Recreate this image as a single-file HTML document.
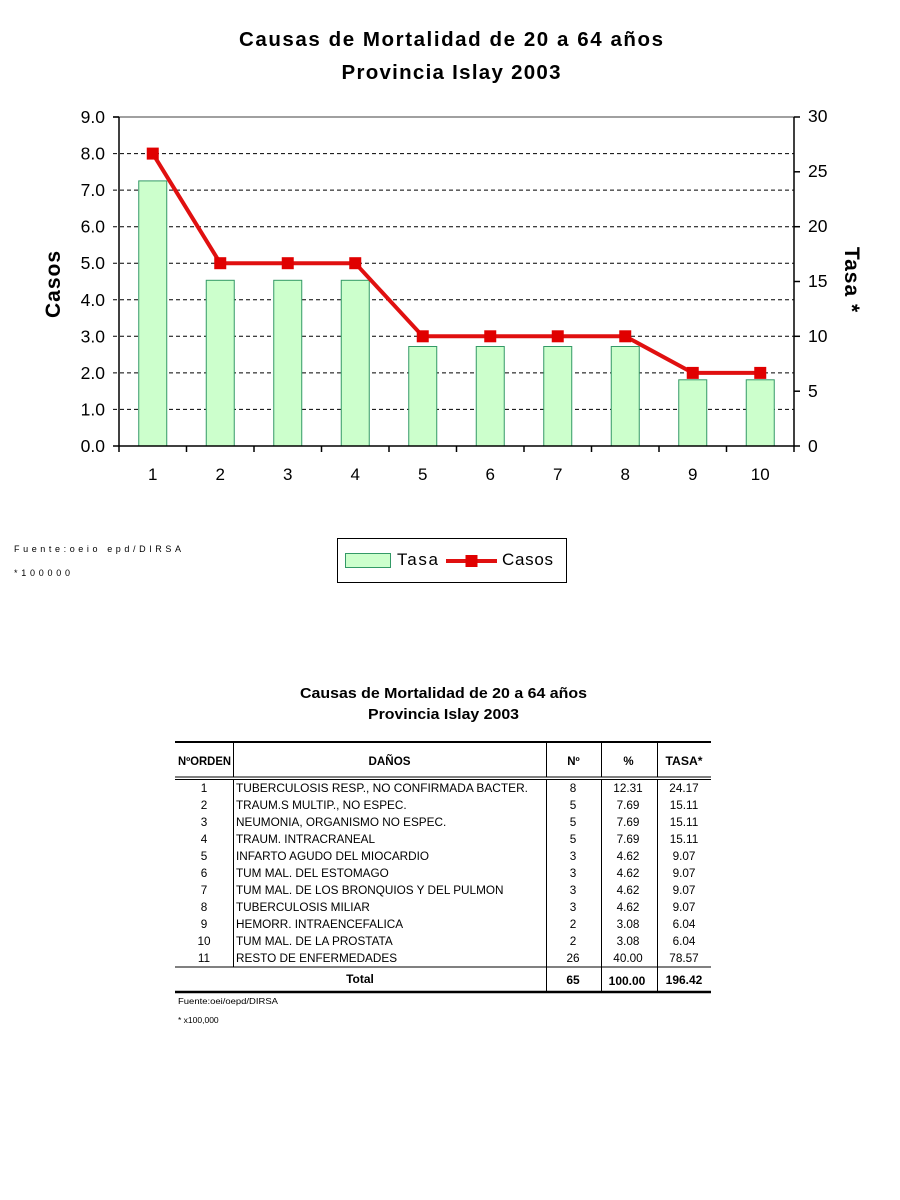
<!DOCTYPE html>
<html><head><meta charset="utf-8"><style>
html,body{margin:0;padding:0;background:#fff;}
svg{display:block;font-family:"Liberation Sans",Arial,sans-serif;}
</style></head><body>
<svg width="900" height="1200" viewBox="0 0 900 1200" xmlns="http://www.w3.org/2000/svg">
<rect width="900" height="1200" fill="#fff"/>
<!-- Title -->
<text x="451" y="46" font-size="20.5" font-weight="bold" text-anchor="middle" textLength="424" lengthAdjust="spacing">Causas de Mortalidad de 20 a 64 años</text>
<text x="451" y="79" font-size="20.5" font-weight="bold" text-anchor="middle" textLength="219" lengthAdjust="spacing">Provincia Islay 2003</text>

<!-- gridlines -->
<g stroke="#000" stroke-width="1" stroke-dasharray="4,3">
<line x1="113" y1="409.4" x2="794" y2="409.4"/>
<line x1="113" y1="372.9" x2="794" y2="372.9"/>
<line x1="113" y1="336.3" x2="794" y2="336.3"/>
<line x1="113" y1="299.8" x2="794" y2="299.8"/>
<line x1="113" y1="263.2" x2="794" y2="263.2"/>
<line x1="113" y1="226.7" x2="794" y2="226.7"/>
<line x1="113" y1="190.1" x2="794" y2="190.1"/>
<line x1="113" y1="153.6" x2="794" y2="153.6"/>
</g>
<line x1="113" y1="117" x2="794" y2="117" stroke="#808080" stroke-width="1.5"/>

<!-- bars -->
<g fill="#ccffcc" stroke="#339966" stroke-width="1">
<rect x="138.75" y="180.9" width="28" height="265.1"/>
<rect x="206.25" y="280.3" width="28" height="165.7"/>
<rect x="273.75" y="280.3" width="28" height="165.7"/>
<rect x="341.25" y="280.3" width="28" height="165.7"/>
<rect x="408.75" y="346.5" width="28" height="99.5"/>
<rect x="476.25" y="346.5" width="28" height="99.5"/>
<rect x="543.75" y="346.5" width="28" height="99.5"/>
<rect x="611.25" y="346.5" width="28" height="99.5"/>
<rect x="678.75" y="379.8" width="28" height="66.2"/>
<rect x="746.25" y="379.8" width="28" height="66.2"/>
</g>

<!-- axes -->
<g stroke="#000" stroke-width="1.5">
<line x1="119" y1="117" x2="119" y2="452"/>
<line x1="794" y1="117" x2="794" y2="452"/>
<line x1="119" y1="446" x2="794" y2="446"/>
<line x1="113" y1="446" x2="119" y2="446"/>
<line x1="113" y1="117" x2="119" y2="117"/>
<line x1="186.5" y1="446" x2="186.5" y2="452"/>
<line x1="254" y1="446" x2="254" y2="452"/>
<line x1="321.5" y1="446" x2="321.5" y2="452"/>
<line x1="389" y1="446" x2="389" y2="452"/>
<line x1="456.5" y1="446" x2="456.5" y2="452"/>
<line x1="524" y1="446" x2="524" y2="452"/>
<line x1="591.5" y1="446" x2="591.5" y2="452"/>
<line x1="659" y1="446" x2="659" y2="452"/>
<line x1="726.5" y1="446" x2="726.5" y2="452"/>
<line x1="794" y1="446" x2="800" y2="446"/>
<line x1="794" y1="391.2" x2="800" y2="391.2"/>
<line x1="794" y1="336.3" x2="800" y2="336.3"/>
<line x1="794" y1="281.5" x2="800" y2="281.5"/>
<line x1="794" y1="226.7" x2="800" y2="226.7"/>
<line x1="794" y1="171.8" x2="800" y2="171.8"/>
<line x1="794" y1="117" x2="800" y2="117"/>
</g>

<!-- line series -->
<polyline fill="none" stroke="#e01010" stroke-width="4" stroke-linejoin="miter"
 points="152.75,153.6 220.25,263.2 287.75,263.2 355.25,263.2 422.75,336.3 490.25,336.3 557.75,336.3 625.25,336.3 692.75,372.9 760.25,372.9"/>
<g fill="#e00000">
<rect x="146.75" y="147.6" width="12" height="12"/>
<rect x="214.25" y="257.2" width="12" height="12"/>
<rect x="281.75" y="257.2" width="12" height="12"/>
<rect x="349.25" y="257.2" width="12" height="12"/>
<rect x="416.75" y="330.3" width="12" height="12"/>
<rect x="484.25" y="330.3" width="12" height="12"/>
<rect x="551.75" y="330.3" width="12" height="12"/>
<rect x="619.25" y="330.3" width="12" height="12"/>
<rect x="686.75" y="366.9" width="12" height="12"/>
<rect x="754.25" y="366.9" width="12" height="12"/>
</g>

<!-- left tick labels -->
<g font-size="17.5" text-anchor="end">
<text x="105" y="123">9.0</text>
<text x="105" y="159.6">8.0</text>
<text x="105" y="196.1">7.0</text>
<text x="105" y="232.7">6.0</text>
<text x="105" y="269.2">5.0</text>
<text x="105" y="305.8">4.0</text>
<text x="105" y="342.3">3.0</text>
<text x="105" y="378.9">2.0</text>
<text x="105" y="415.4">1.0</text>
<text x="105" y="452">0.0</text>
</g>
<!-- right tick labels -->
<g font-size="17.5" text-anchor="start">
<text x="808" y="122">30</text>
<text x="808" y="177">25</text>
<text x="808" y="232">20</text>
<text x="808" y="287">15</text>
<text x="808" y="342">10</text>
<text x="808" y="397">5</text>
<text x="808" y="452">0</text>
</g>
<!-- x labels -->
<g font-size="17" text-anchor="middle">
<text x="152.75" y="480">1</text>
<text x="220.25" y="480">2</text>
<text x="287.75" y="480">3</text>
<text x="355.25" y="480">4</text>
<text x="422.75" y="480">5</text>
<text x="490.25" y="480">6</text>
<text x="557.75" y="480">7</text>
<text x="625.25" y="480">8</text>
<text x="692.75" y="480">9</text>
<text x="760.25" y="480">10</text>
</g>
<!-- axis titles -->
<text transform="translate(60,284) rotate(-90)" font-size="21" font-weight="bold" text-anchor="middle" letter-spacing="1">Casos</text>
<text transform="translate(845,280) rotate(90)" font-size="21" font-weight="bold" text-anchor="middle" letter-spacing="1">Tasa *</text>

<!-- footnote -->
<text x="14" y="552" font-size="9" textLength="167" lengthAdjust="spacing">Fuente:oeio epd/DIRSA</text>
<text x="14" y="576" font-size="9" textLength="56" lengthAdjust="spacing">*100000</text>

<!-- legend -->
<rect x="337.5" y="538.5" width="229" height="44" fill="#fff" stroke="#000" stroke-width="1"/>
<rect x="345.5" y="553.5" width="45" height="14" fill="#ccffcc" stroke="#339966" stroke-width="1"/>
<text x="397" y="565" font-size="17" textLength="41" lengthAdjust="spacing">Tasa</text>
<line x1="446" y1="561" x2="497" y2="561" stroke="#e01010" stroke-width="4"/>
<rect x="465.5" y="555" width="12" height="12" fill="#e00000"/>
<text x="502" y="565" font-size="17" textLength="51" lengthAdjust="spacing">Casos</text>

<!-- table title -->
<text x="443.5" y="698" font-size="14.5" font-weight="bold" text-anchor="middle" textLength="287" lengthAdjust="spacingAndGlyphs">Causas de Mortalidad de 20 a 64 años</text>
<text x="443.5" y="719" font-size="14.5" font-weight="bold" text-anchor="middle" textLength="151" lengthAdjust="spacingAndGlyphs">Provincia Islay 2003</text>

<!-- table lines -->
<line x1="175" y1="742" x2="711" y2="742" stroke="#000" stroke-width="2"/>
<line x1="175" y1="777" x2="711" y2="777" stroke="#000" stroke-width="1"/>
<line x1="175" y1="779.5" x2="711" y2="779.5" stroke="#000" stroke-width="1"/>
<line x1="175" y1="967" x2="711" y2="967" stroke="#000" stroke-width="1"/>
<line x1="175" y1="992" x2="711" y2="992" stroke="#000" stroke-width="2.5"/>
<g stroke="#000" stroke-width="1">
<line x1="233.5" y1="742" x2="233.5" y2="777"/>
<line x1="233.5" y1="779.5" x2="233.5" y2="967"/>
<line x1="546.5" y1="742" x2="546.5" y2="777"/>
<line x1="546.5" y1="779.5" x2="546.5" y2="992"/>
<line x1="601.5" y1="742" x2="601.5" y2="777"/>
<line x1="601.5" y1="779.5" x2="601.5" y2="992"/>
<line x1="657.5" y1="742" x2="657.5" y2="777"/>
<line x1="657.5" y1="779.5" x2="657.5" y2="992"/>
</g>

<!-- header -->
<g font-size="11.5" font-weight="bold" text-anchor="middle">
<text x="204.5" y="765" textLength="53" lengthAdjust="spacingAndGlyphs">NºORDEN</text>
<text x="389.5" y="765" textLength="42" lengthAdjust="spacingAndGlyphs">DAÑOS</text>
<text x="573.5" y="765">Nº</text>
<text x="628.5" y="765">%</text>
<text x="684" y="765" textLength="37" lengthAdjust="spacingAndGlyphs">TASA*</text>
</g>

<!-- rows -->
<g font-size="11.75" text-anchor="middle">
<text x="204" y="792">1</text>
<text x="204" y="809">2</text>
<text x="204" y="826">3</text>
<text x="204" y="843">4</text>
<text x="204" y="860">5</text>
<text x="204" y="877">6</text>
<text x="204" y="894">7</text>
<text x="204" y="911">8</text>
<text x="204" y="928">9</text>
<text x="204" y="945">10</text>
<text x="204" y="962">11</text>
</g>
<g font-size="11.75" text-anchor="start">
<text x="236" y="792" textLength="292" lengthAdjust="spacingAndGlyphs">TUBERCULOSIS RESP., NO CONFIRMADA BACTER.</text>
<text x="236" y="809">TRAUM.S MULTIP., NO ESPEC.</text>
<text x="236" y="826">NEUMONIA, ORGANISMO NO ESPEC.</text>
<text x="236" y="843">TRAUM. INTRACRANEAL</text>
<text x="236" y="860">INFARTO AGUDO DEL MIOCARDIO</text>
<text x="236" y="877">TUM MAL. DEL ESTOMAGO</text>
<text x="236" y="894">TUM MAL. DE LOS BRONQUIOS Y DEL PULMON</text>
<text x="236" y="911">TUBERCULOSIS MILIAR</text>
<text x="236" y="928">HEMORR. INTRAENCEFALICA</text>
<text x="236" y="945">TUM MAL. DE LA PROSTATA</text>
<text x="236" y="962">RESTO DE ENFERMEDADES</text>
</g>
<g font-size="11.75" text-anchor="middle">
<text x="573" y="792">8</text>
<text x="573" y="809">5</text>
<text x="573" y="826">5</text>
<text x="573" y="843">5</text>
<text x="573" y="860">3</text>
<text x="573" y="877">3</text>
<text x="573" y="894">3</text>
<text x="573" y="911">3</text>
<text x="573" y="928">2</text>
<text x="573" y="945">2</text>
<text x="573" y="962">26</text>
<text x="628" y="792">12.31</text>
<text x="628" y="809">7.69</text>
<text x="628" y="826">7.69</text>
<text x="628" y="843">7.69</text>
<text x="628" y="860">4.62</text>
<text x="628" y="877">4.62</text>
<text x="628" y="894">4.62</text>
<text x="628" y="911">4.62</text>
<text x="628" y="928">3.08</text>
<text x="628" y="945">3.08</text>
<text x="628" y="962">40.00</text>
<text x="684" y="792">24.17</text>
<text x="684" y="809">15.11</text>
<text x="684" y="826">15.11</text>
<text x="684" y="843">15.11</text>
<text x="684" y="860">9.07</text>
<text x="684" y="877">9.07</text>
<text x="684" y="894">9.07</text>
<text x="684" y="911">9.07</text>
<text x="684" y="928">6.04</text>
<text x="684" y="945">6.04</text>
<text x="684" y="962">78.57</text>
</g>
<g font-size="12" font-weight="bold" text-anchor="middle">
<text x="360" y="983">Total</text>
<text x="573" y="984">65</text>
<text x="627" y="985">100.00</text>
<text x="684" y="984">196.42</text>
</g>

<text x="178" y="1004" font-size="8.5" textLength="100" lengthAdjust="spacingAndGlyphs">Fuente:oei/oepd/DIRSA</text>
<text x="178" y="1023" font-size="8.5">* x100,000</text>
</svg>
</body></html>
